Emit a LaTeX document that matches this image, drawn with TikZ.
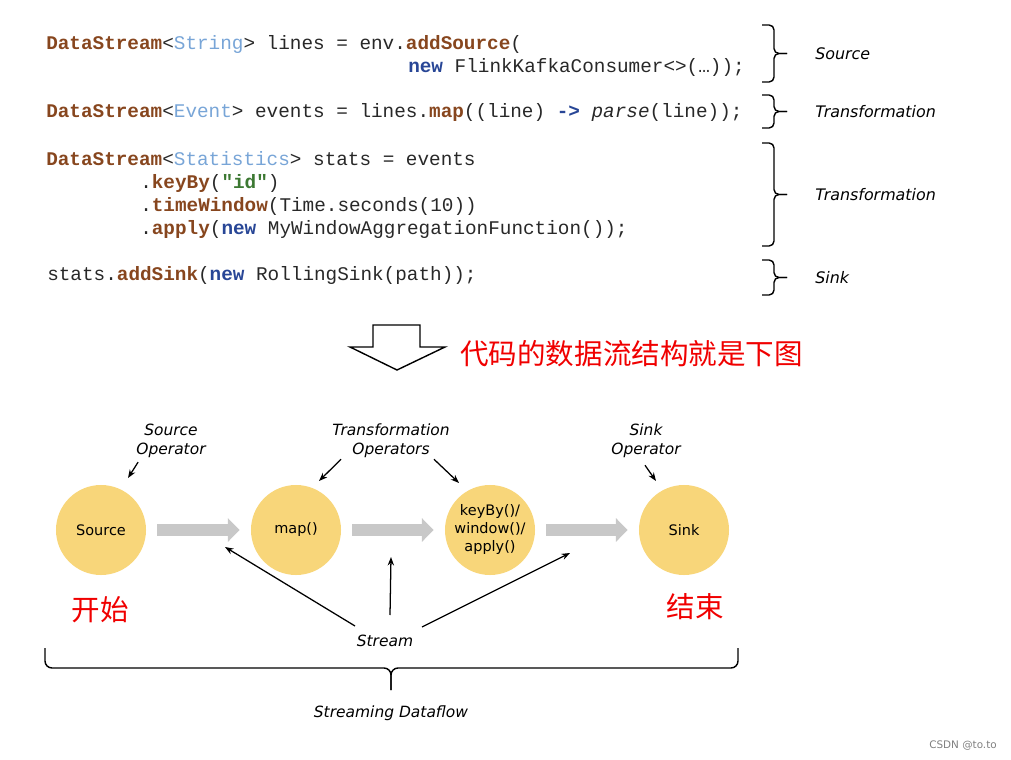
\documentclass[tikz,border=0pt]{standalone}
\usepackage{fontspec}
\setmainfont{DejaVu Sans}
\setmonofont{Liberation Mono}
\newfontfamily\cjk{Noto Sans CJK SC}
\usetikzlibrary{arrows.meta,positioning}

\definecolor{kwbrown}{RGB}{135,70,30}
\definecolor{typblue}{RGB}{120,165,215}
\definecolor{newblue}{RGB}{40,70,150}
\definecolor{strgreen}{RGB}{60,120,50}
\definecolor{codegray}{RGB}{40,40,40}
\definecolor{opyellow}{RGB}{248,214,122}
\definecolor{flowgray}{RGB}{200,200,200}
\definecolor{cnred}{RGB}{240,0,0}

\newcommand\mth[1]{\textcolor{kwbrown}{\bfseries #1}}
\newcommand\typ[1]{\textcolor{typblue}{#1}}
\newcommand\nw[1]{\textcolor{newblue}{\bfseries #1}}

% brace on the right of the code: name, top, bottom, label
\newcommand\codebrace[4]{%
\draw[bline] (762,#2) -- (774,#2) -- (774,{(#2+#3)/2}) -- (787,{(#2+#3)/2});
\draw[bline] (762,#3) -- (774,#3) -- (774,{(#2+#3)/2}) -- (787,{(#2+#3)/2});
\coordinate (#1) at (787,{(#2+#3)/2});
\node[side, right=0.7cm of #1] (#1-lbl) {#4};
}

\begin{document}
\begin{tikzpicture}
[x=0.025cm,y=-0.025cm,
%%%%%%%%%%%%%%%%%%%%%%%%%%%%%%
codeline/.style={anchor=base west,inner sep=0,text=codegray,font=\ttfamily\fontsize{13.75}{16}\selectfont},
side/.style={anchor=west,inner sep=0,font=\fontsize{11.3}{13.5}\selectfont\itshape},
bline/.style={line width=1pt,rounded corners=3.5pt},
op/.style={circle,fill=opyellow,minimum size=2.25cm,inner sep=0,align=center,font=\fontsize{10.3}{12.8}\selectfont},
flow/.style={draw=flowgray,line width=8pt,shorten <=7.8pt,shorten >=7.8pt,-{Triangle[length=8.5pt,width=16.5pt]}},
ptr/.style={line width=0.9pt,-{Stealth[length=6pt,width=4.5pt]}},
lbl/.style={inner sep=0,align=center,font=\fontsize{11}{13.5}\selectfont\itshape},
cn/.style={inner sep=0,text=cnred,font=\cjk\fontsize{20.3}{24}\selectfont},
]%%%%%%%%%%%%%%%%%%%%%%%%%%%%%%
\useasboundingbox (0,0) rectangle (1011,760);

% code
\node[codeline] (c1) at (46,50) {\mth{DataStream}<\typ{String}> lines = env.\mth{addSource}(};
\node[codeline] (c2) at (408,73) {\nw{new} FlinkKafkaConsumer<>(…));};
\node[codeline] (c3) at (46,118) {\mth{DataStream}<\typ{Event}> events = lines.\mth{map}((line) \nw{->} \textit{parse}(line));};
\node[codeline] (c4) at (46,166) {\mth{DataStream}<\typ{Statistics}> stats = events};
\node[codeline] (c5) at (140,189) {.\mth{keyBy}(\textcolor{strgreen}{\bfseries "id"})};
\node[codeline] (c6) at (140,212) {.\mth{timeWindow}(Time.seconds(10))};
\node[codeline] (c7) at (140,235) {.\mth{apply}(\nw{new} MyWindowAggregationFunction());};
\node[codeline] (c8) at (47,281) {stats.\mth{addSink}(\nw{new} RollingSink(path));};

\codebrace{b1}{25}{82}{Source}
\codebrace{b2}{95}{128}{Transformation}
\codebrace{b3}{143}{246}{Transformation}
\codebrace{b4}{260}{295}{Sink}

% down arrow
\draw[line width=1pt] (373,325) -- (420,325) -- (420,347) -- (445,347) -- (397,370)
  -- (350,347) -- (373,347) -- cycle;
\node[cn,anchor=west] (title) at (460,354) {代码的数据流结构就是下图};

% dataflow
\foreach \nm/\x/\txt in {src/101/Source,map/296/map(),win/490/{keyBy()/\\window()/\\apply()},sink/684/Sink}
  \node[op] (\nm) at (\x,530) {\txt};
\foreach \a/\b in {src/map,map/win,win/sink}
  \draw[flow] (\a) -- (\b);

\node[lbl] (srcop) at (171,441) {Source\\Operator};
\node[lbl] (trop) at (391,441) {Transformation\\Operators};
\node[lbl] (sinkop) at (646,441) {Sink\\Operator};
\coordinate (e1) at (128,478);
\coordinate (e2) at (319,481);
\coordinate (e3) at (459,483);
\coordinate (e4) at (656,481);
\draw[ptr] ([shift={(2,4)}]srcop.south west) -- (e1);
\draw[ptr] ([shift={(9,1)}]trop.south west) -- (e2);
\draw[ptr] ([shift={(-16,1)}]trop.south east) -- (e3);
\draw[ptr] ([shift={(-1,7)}]sinkop.south) -- (e4);

\node[lbl] (stream) at (385,641) {Stream};
\coordinate (s1) at (225,547);
\coordinate (s2) at (391,557);
\coordinate (s3) at (570,553);
\draw[ptr] ([shift={(-30,-15)}]stream.center) -- (s1);
\draw[ptr] ([shift={(5,-26)}]stream.center) -- (s2);
\draw[ptr] ([shift={(37,-14)}]stream.center) -- (s3);

\node[cn] (start) at (100,610) {开始};
\node[cn] (end) at (695,607) {结束};

% bottom brace
\draw[bline,rounded corners=5pt] (45,648) -- (45,668) -- (391,668) -- (391,690);
\draw[bline,rounded corners=5pt] (738,648) -- (738,668) -- (391,668) -- (391,690);
\node[lbl] (dataflow) at (391,713) {Streaming Dataflow};

\node[inner sep=0,anchor=east,text=gray,font=\fontsize{7.4}{9}\selectfont] (wm) at (997,746) {CSDN @to.to};
\end{tikzpicture}
\end{document}
